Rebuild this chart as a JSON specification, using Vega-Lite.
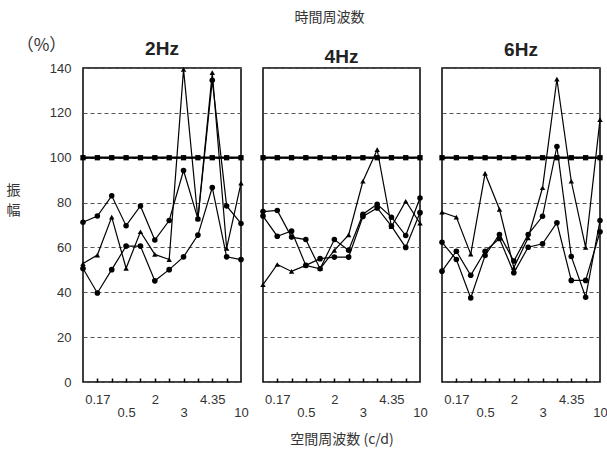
{
"$schema":"https://vega.github.io/schema/vega-lite/v6.json",
"padding":{"left":5,"top":11,"right":0,"bottom":5},
"background":"white",
"bounds":"flush",
"title":{"text":"時間周波数","font":"Noto Sans CJK JP","fontSize":14,"fontWeight":"normal","anchor":"middle","dx":23,"offset":10,"color":"#333"},
"data":{"values":[
{"hz":"2Hz","s":"sq","x":1,"v":100},{"hz":"2Hz","s":"sq","x":2,"v":100},{"hz":"2Hz","s":"sq","x":3,"v":100},{"hz":"2Hz","s":"sq","x":4,"v":100},{"hz":"2Hz","s":"sq","x":5,"v":100},{"hz":"2Hz","s":"sq","x":6,"v":100},{"hz":"2Hz","s":"sq","x":7,"v":100},{"hz":"2Hz","s":"sq","x":8,"v":100},{"hz":"2Hz","s":"sq","x":9,"v":100},{"hz":"2Hz","s":"sq","x":10,"v":100},{"hz":"2Hz","s":"sq","x":11,"v":100},{"hz":"2Hz","s":"sq","x":12,"v":100},
{"hz":"2Hz","s":"tri","x":1,"v":52.8},{"hz":"2Hz","s":"tri","x":2,"v":56.6},{"hz":"2Hz","s":"tri","x":3,"v":73.5},{"hz":"2Hz","s":"tri","x":4,"v":50.7},{"hz":"2Hz","s":"tri","x":5,"v":67},{"hz":"2Hz","s":"tri","x":6,"v":56.9},{"hz":"2Hz","s":"tri","x":7,"v":54.6},{"hz":"2Hz","s":"tri","x":8,"v":139.4},{"hz":"2Hz","s":"tri","x":9,"v":72.7},{"hz":"2Hz","s":"tri","x":10,"v":137.9},{"hz":"2Hz","s":"tri","x":11,"v":59.6},{"hz":"2Hz","s":"tri","x":12,"v":88.7},
{"hz":"2Hz","s":"cA","x":1,"v":71.2},{"hz":"2Hz","s":"cA","x":2,"v":74},{"hz":"2Hz","s":"cA","x":3,"v":83},{"hz":"2Hz","s":"cA","x":4,"v":69.7},{"hz":"2Hz","s":"cA","x":5,"v":78.5},{"hz":"2Hz","s":"cA","x":6,"v":63.3},{"hz":"2Hz","s":"cA","x":7,"v":72},{"hz":"2Hz","s":"cA","x":8,"v":94.3},{"hz":"2Hz","s":"cA","x":9,"v":72.7},{"hz":"2Hz","s":"cA","x":10,"v":134.5},{"hz":"2Hz","s":"cA","x":11,"v":78.5},{"hz":"2Hz","s":"cA","x":12,"v":70.7},
{"hz":"2Hz","s":"cB","x":1,"v":50.6},{"hz":"2Hz","s":"cB","x":2,"v":39.7},{"hz":"2Hz","s":"cB","x":3,"v":50.1},{"hz":"2Hz","s":"cB","x":4,"v":60.6},{"hz":"2Hz","s":"cB","x":5,"v":60.6},{"hz":"2Hz","s":"cB","x":6,"v":45.1},{"hz":"2Hz","s":"cB","x":7,"v":50.1},{"hz":"2Hz","s":"cB","x":8,"v":55.8},{"hz":"2Hz","s":"cB","x":9,"v":65.5},{"hz":"2Hz","s":"cB","x":10,"v":86.7},{"hz":"2Hz","s":"cB","x":11,"v":55.8},{"hz":"2Hz","s":"cB","x":12,"v":54.6},
{"hz":"4Hz","s":"sq","x":1,"v":100},{"hz":"4Hz","s":"sq","x":2,"v":100},{"hz":"4Hz","s":"sq","x":3,"v":100},{"hz":"4Hz","s":"sq","x":4,"v":100},{"hz":"4Hz","s":"sq","x":5,"v":100},{"hz":"4Hz","s":"sq","x":6,"v":100},{"hz":"4Hz","s":"sq","x":7,"v":100},{"hz":"4Hz","s":"sq","x":8,"v":100},{"hz":"4Hz","s":"sq","x":9,"v":100},{"hz":"4Hz","s":"sq","x":10,"v":100},{"hz":"4Hz","s":"sq","x":11,"v":100},{"hz":"4Hz","s":"sq","x":12,"v":100},
{"hz":"4Hz","s":"tri","x":1,"v":43.4},{"hz":"4Hz","s":"tri","x":2,"v":52.4},{"hz":"4Hz","s":"tri","x":3,"v":49.3},{"hz":"4Hz","s":"tri","x":4,"v":52},{"hz":"4Hz","s":"tri","x":5,"v":50.5},{"hz":"4Hz","s":"tri","x":6,"v":58.7},{"hz":"4Hz","s":"tri","x":7,"v":65.6},{"hz":"4Hz","s":"tri","x":8,"v":89.5},{"hz":"4Hz","s":"tri","x":9,"v":103.6},{"hz":"4Hz","s":"tri","x":10,"v":69.3},{"hz":"4Hz","s":"tri","x":11,"v":80.6},{"hz":"4Hz","s":"tri","x":12,"v":70.8},
{"hz":"4Hz","s":"cA","x":1,"v":76},{"hz":"4Hz","s":"cA","x":2,"v":76.5},{"hz":"4Hz","s":"cA","x":3,"v":64.6},{"hz":"4Hz","s":"cA","x":4,"v":63.5},{"hz":"4Hz","s":"cA","x":5,"v":50.5},{"hz":"4Hz","s":"cA","x":6,"v":63.5},{"hz":"4Hz","s":"cA","x":7,"v":58.7},{"hz":"4Hz","s":"cA","x":8,"v":74.8},{"hz":"4Hz","s":"cA","x":9,"v":79.2},{"hz":"4Hz","s":"cA","x":10,"v":73.5},{"hz":"4Hz","s":"cA","x":11,"v":65.3},{"hz":"4Hz","s":"cA","x":12,"v":82},
{"hz":"4Hz","s":"cB","x":1,"v":74},{"hz":"4Hz","s":"cB","x":2,"v":65},{"hz":"4Hz","s":"cB","x":3,"v":67.3},{"hz":"4Hz","s":"cB","x":4,"v":52},{"hz":"4Hz","s":"cB","x":5,"v":55},{"hz":"4Hz","s":"cB","x":6,"v":55.7},{"hz":"4Hz","s":"cB","x":7,"v":55.7},{"hz":"4Hz","s":"cB","x":8,"v":73.8},{"hz":"4Hz","s":"cB","x":9,"v":77.6},{"hz":"4Hz","s":"cB","x":10,"v":69.5},{"hz":"4Hz","s":"cB","x":11,"v":60},{"hz":"4Hz","s":"cB","x":12,"v":75.5},
{"hz":"6Hz","s":"sq","x":1,"v":100},{"hz":"6Hz","s":"sq","x":2,"v":100},{"hz":"6Hz","s":"sq","x":3,"v":100},{"hz":"6Hz","s":"sq","x":4,"v":100},{"hz":"6Hz","s":"sq","x":5,"v":100},{"hz":"6Hz","s":"sq","x":6,"v":100},{"hz":"6Hz","s":"sq","x":7,"v":100},{"hz":"6Hz","s":"sq","x":8,"v":100},{"hz":"6Hz","s":"sq","x":9,"v":100},{"hz":"6Hz","s":"sq","x":10,"v":100},{"hz":"6Hz","s":"sq","x":11,"v":100},{"hz":"6Hz","s":"sq","x":12,"v":100},
{"hz":"6Hz","s":"tri","x":1,"v":75.7},{"hz":"6Hz","s":"tri","x":2,"v":73.5},{"hz":"6Hz","s":"tri","x":3,"v":57},{"hz":"6Hz","s":"tri","x":4,"v":93},{"hz":"6Hz","s":"tri","x":5,"v":77},{"hz":"6Hz","s":"tri","x":6,"v":51},{"hz":"6Hz","s":"tri","x":7,"v":64.3},{"hz":"6Hz","s":"tri","x":8,"v":86.6},{"hz":"6Hz","s":"tri","x":9,"v":135},{"hz":"6Hz","s":"tri","x":10,"v":89.5},{"hz":"6Hz","s":"tri","x":11,"v":60},{"hz":"6Hz","s":"tri","x":12,"v":117},
{"hz":"6Hz","s":"cA","x":1,"v":62.3},{"hz":"6Hz","s":"cA","x":2,"v":54.6},{"hz":"6Hz","s":"cA","x":3,"v":37.5},{"hz":"6Hz","s":"cA","x":4,"v":56.4},{"hz":"6Hz","s":"cA","x":5,"v":65.8},{"hz":"6Hz","s":"cA","x":6,"v":53.9},{"hz":"6Hz","s":"cA","x":7,"v":65.8},{"hz":"6Hz","s":"cA","x":8,"v":73.9},{"hz":"6Hz","s":"cA","x":9,"v":105},{"hz":"6Hz","s":"cA","x":10,"v":56},{"hz":"6Hz","s":"cA","x":11,"v":37.8},{"hz":"6Hz","s":"cA","x":12,"v":72},
{"hz":"6Hz","s":"cB","x":1,"v":49.4},{"hz":"6Hz","s":"cB","x":2,"v":58.3},{"hz":"6Hz","s":"cB","x":3,"v":47.6},{"hz":"6Hz","s":"cB","x":4,"v":58.3},{"hz":"6Hz","s":"cB","x":5,"v":64},{"hz":"6Hz","s":"cB","x":6,"v":48.7},{"hz":"6Hz","s":"cB","x":7,"v":60.1},{"hz":"6Hz","s":"cB","x":8,"v":61.6},{"hz":"6Hz","s":"cB","x":9,"v":71},{"hz":"6Hz","s":"cB","x":10,"v":45.3},{"hz":"6Hz","s":"cB","x":11,"v":45.3},{"hz":"6Hz","s":"cB","x":12,"v":67}
]},
"hconcat":[
{
 "width":158,"height":314,"title":{"text":"2Hz","offset":-23},
 "transform":[{"filter":"datum.hz=='2Hz'"}],
 "layer":[
  {"mark":{"type":"line","color":"black","strokeWidth":1.2},
   "encoding":{
    "x":{"field":"x","type":"quantitative","scale":{"domain":[1,12],"nice":false,"zero":false},
      "axis":{"orient":"bottom","values":[2,6,10],"labelExpr":"datum.value==2?'0.17':datum.value==6?'2':'4.35'","grid":false,"domain":false,"ticks":false,"labelPadding":11,"labelFlush":false,"labelOverlap":false,"title":null}},
    "y":{"field":"v","type":"quantitative","scale":{"domain":[0,140],"nice":false},
      "axis":{"values":[0,20,40,60,80,100,120,140],"grid":true,"gridDash":[4,3],"gridColor":"#555","gridWidth":1,"domain":false,"ticks":false,"labelPadding":12,"title":["振","幅"],"titleAngle":0,"titleX":-70,"titleY":115,"titleBaseline":"top","titleAlign":"center","titleLineHeight":20}},
    "detail":{"field":"s"}
   }},
  {"mark":{"type":"line","color":"black","strokeWidth":2.2},
   "transform":[{"filter":"datum.s=='sq'"}],
   "encoding":{
    "x":{"field":"x","type":"quantitative","axis":{"orient":"bottom","values":[4,8,12],"labelExpr":"datum.value==4?'0.5':datum.value==8?'3':'10'","grid":false,"domain":false,"ticks":false,"labelPadding":24,"labelFlush":false,"labelOverlap":false,"title":null}},
    "y":{"field":"v","type":"quantitative","axis":{"orient":"left","title":"（%）","labels":false,"ticks":false,"domain":false,"grid":false,"titleAngle":0,"titleX":-42,"titleY":-23,"titleAlign":"center","titleBaseline":"middle","titleFontSize":17}}
   }},
  {"mark":{"type":"point","filled":true,"color":"black","opacity":1},
   "encoding":{
    "x":{"field":"x","type":"quantitative","axis":{"orient":"bottom","values":[2,3,4,5,6,7,8,9,10,11],"labels":false,"grid":false,"domain":false,"ticks":true,"tickSize":4,"tickWidth":1.5,"tickColor":"black","offset":-4,"title":null}},
    "y":{"field":"v","type":"quantitative","axis":null},
    "shape":{"field":"s","type":"nominal","scale":{"domain":["sq","tri","cA","cB"],"range":["square","triangle-up","circle","circle"]},"legend":null},
    "size":{"field":"s","type":"nominal","scale":{"domain":["sq","tri","cA","cB"],"range":[28,32,24,24]},"legend":null}
   }}
 ],
 "resolve":{"axis":{"y":"independent","x":"independent"}}
},
{
 "width":157,"height":314,"title":{"text":"4Hz","offset":1},
 "transform":[{"filter":"datum.hz=='4Hz'"}],
 "layer":[
  {"mark":{"type":"line","color":"black","strokeWidth":1.2},
   "encoding":{
    "x":{"field":"x","type":"quantitative","scale":{"domain":[1,12],"nice":false,"zero":false},
      "axis":{"orient":"bottom","values":[2,6,10],"labelExpr":"datum.value==2?'0.17':datum.value==6?'2':'4.35'","grid":false,"domain":false,"ticks":false,"labelPadding":11,"labelFlush":false,"labelOverlap":false,"title":"空間周波数 (c/d)","titlePadding":26}},
    "y":{"field":"v","type":"quantitative","scale":{"domain":[0,140],"nice":false},
      "axis":{"values":[0,20,40,60,80,100,120,140],"grid":true,"gridDash":[4,3],"gridColor":"#555","gridWidth":1,"domain":false,"ticks":false,"labels":false,"title":null,"minExtent":0,"maxExtent":0}},
    "detail":{"field":"s"}
   }},
  {"mark":{"type":"line","color":"black","strokeWidth":2.2},
   "transform":[{"filter":"datum.s=='sq'"}],
   "encoding":{
    "x":{"field":"x","type":"quantitative","axis":{"orient":"bottom","values":[4,8,12],"labelExpr":"datum.value==4?'0.5':datum.value==8?'3':'10'","grid":false,"domain":false,"ticks":false,"labelPadding":24,"labelFlush":false,"labelOverlap":false,"title":null}},
    "y":{"field":"v","type":"quantitative"}
   }},
  {"mark":{"type":"point","filled":true,"color":"black","opacity":1},
   "encoding":{
    "x":{"field":"x","type":"quantitative","axis":{"orient":"bottom","values":[2,3,4,5,6,7,8,9,10,11],"labels":false,"grid":false,"domain":false,"ticks":true,"tickSize":4,"tickWidth":1.5,"tickColor":"black","offset":-4,"title":null}},
    "y":{"field":"v","type":"quantitative"},
    "shape":{"field":"s","type":"nominal","scale":{"domain":["sq","tri","cA","cB"],"range":["square","triangle-up","circle","circle"]},"legend":null},
    "size":{"field":"s","type":"nominal","scale":{"domain":["sq","tri","cA","cB"],"range":[28,32,24,24]},"legend":null}
   }}
 ],
 "resolve":{"axis":{"x":"independent"}}
},
{
 "width":158,"height":314,"title":{"text":"6Hz","offset":8},
 "transform":[{"filter":"datum.hz=='6Hz'"}],
 "layer":[
  {"mark":{"type":"line","color":"black","strokeWidth":1.2},
   "encoding":{
    "x":{"field":"x","type":"quantitative","scale":{"domain":[1,12],"nice":false,"zero":false},
      "axis":{"orient":"bottom","values":[2,6,10],"labelExpr":"datum.value==2?'0.17':datum.value==6?'2':'4.35'","grid":false,"domain":false,"ticks":false,"labelPadding":11,"labelFlush":false,"labelOverlap":false,"title":null}},
    "y":{"field":"v","type":"quantitative","scale":{"domain":[0,140],"nice":false},
      "axis":{"values":[0,20,40,60,80,100,120,140],"grid":true,"gridDash":[4,3],"gridColor":"#555","gridWidth":1,"domain":false,"ticks":false,"labels":false,"title":null,"minExtent":0,"maxExtent":0}},
    "detail":{"field":"s"}
   }},
  {"mark":{"type":"line","color":"black","strokeWidth":2.2},
   "transform":[{"filter":"datum.s=='sq'"}],
   "encoding":{
    "x":{"field":"x","type":"quantitative","axis":{"orient":"bottom","values":[4,8,12],"labelExpr":"datum.value==4?'0.5':datum.value==8?'3':'10'","grid":false,"domain":false,"ticks":false,"labelPadding":24,"labelFlush":false,"labelOverlap":false,"title":null}},
    "y":{"field":"v","type":"quantitative"}
   }},
  {"mark":{"type":"point","filled":true,"color":"black","opacity":1},
   "encoding":{
    "x":{"field":"x","type":"quantitative","axis":{"orient":"bottom","values":[2,3,4,5,6,7,8,9,10,11],"labels":false,"grid":false,"domain":false,"ticks":true,"tickSize":4,"tickWidth":1.5,"tickColor":"black","offset":-4,"title":null}},
    "y":{"field":"v","type":"quantitative"},
    "shape":{"field":"s","type":"nominal","scale":{"domain":["sq","tri","cA","cB"],"range":["square","triangle-up","circle","circle"]},"legend":null},
    "size":{"field":"s","type":"nominal","scale":{"domain":["sq","tri","cA","cB"],"range":[28,32,24,24]},"legend":null}
   }}
 ],
 "resolve":{"axis":{"x":"independent"}}
}
],
"config":{
 "view":{"stroke":"black","strokeWidth":1.5},
 "concat":{"spacing":22},
 "axis":{"labelFont":"Liberation Sans","labelFontSize":13,"labelColor":"#333","titleFont":"Noto Sans CJK JP","titleFontWeight":"normal","titleFontSize":14,"titleColor":"#333"},
 "axisX":{"labelOverlap":false},
 "title":{"font":"Liberation Sans","fontSize":19,"fontWeight":"bold","color":"#222","offset":8}
}
}
